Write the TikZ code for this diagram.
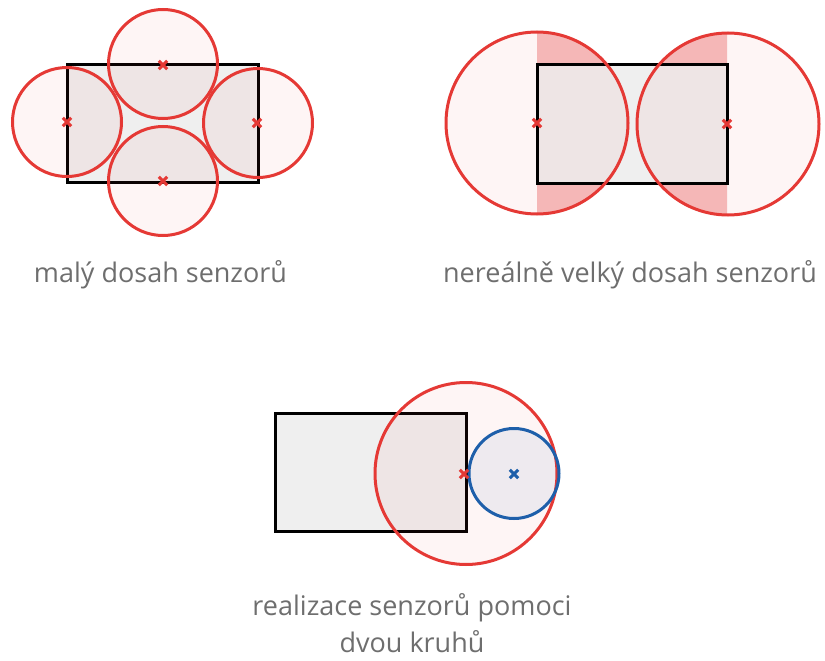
\documentclass[tikz,border=0pt]{standalone}
\usepackage{fontspec}
\setmainfont{Open Sans}
\definecolor{sred}{RGB}{229,57,53}
\definecolor{sblue}{RGB}{30,95,170}
\definecolor{areagray}{RGB}{239,239,239}
\definecolor{darkpink}{RGB}{246,190,190}
\definecolor{labelgray}{RGB}{110,110,110}
\tikzset{
  zonebox/.style={fill=areagray, draw=black, line width=3pt},
  sensrange/.style={draw=sred, line width=3pt, fill=sred, fill opacity=0.05},
  bsensrange/.style={draw=sblue, line width=3pt, fill=sblue, fill opacity=0.07},
  sensx/.pic={\draw[line width=3pt] (-4.2,-4.2) -- (4.2,4.2) (-4.2,4.2) -- (4.2,-4.2);},
  caption/.style={text=labelgray, font=\fontsize{27}{37.5}\selectfont, inner sep=0pt}
}
\begin{document}
\begin{tikzpicture}[x=1pt,y=-1pt]
\useasboundingbox (0,0) rectangle (825,661);
% ---------- top left: small range
\draw[zonebox] (67,65) rectangle (258,182);
\draw[sensrange] (163,64) circle[radius=54.5pt];
\draw[sensrange] (67,122) circle[radius=54.5pt];
\draw[sensrange] (258,123) circle[radius=54.5pt];
\draw[sensrange] (163,181) circle[radius=54.5pt];
\pic[color=sred] at (163,65) {sensx};
\pic[color=sred] at (67,122) {sensx};
\pic[color=sred] at (257,123) {sensx};
\pic[color=sred] at (163,181) {sensx};
\node[caption, anchor=base] (l1) at (160.5,282) {malý dosah senzorů};
% ---------- top right: unrealistically large range
\begin{scope}
\clip (537,0) rectangle (727,300);
\fill[darkpink] (537,123) circle[radius=91pt] (728,124) circle[radius=91pt];
\end{scope}
\fill[areagray] (537,65) rectangle (727,183);
\fill[sred, fill opacity=0.05] (537,123) circle[radius=91pt] (728,124) circle[radius=91pt];
\draw[black, line width=3pt] (537,65) rectangle (727,183);
\draw[sred, line width=3pt] (537,123) circle[radius=91pt] (728,124) circle[radius=91pt];
\pic[color=sred] at (537,123) {sensx};
\pic[color=sred] at (727,124) {sensx};
\node[caption, anchor=base] (l2) at (630,282) {nereálně velký dosah senzorů};
% ---------- bottom: two circles
\draw[zonebox] (275,413) rectangle (466,531);
\draw[sensrange] (466,473.5) circle[radius=91pt];
\draw[bsensrange] (514,473.5) circle[radius=45pt];
\pic[color=sred] at (464,474) {sensx};
\pic[color=sblue] at (514,474) {sensx};
\node[caption, anchor=base, align=center] (l3) at (412,652.5) {realizace senzorů pomoci\\dvou kruhů};
\end{tikzpicture}
\end{document}
